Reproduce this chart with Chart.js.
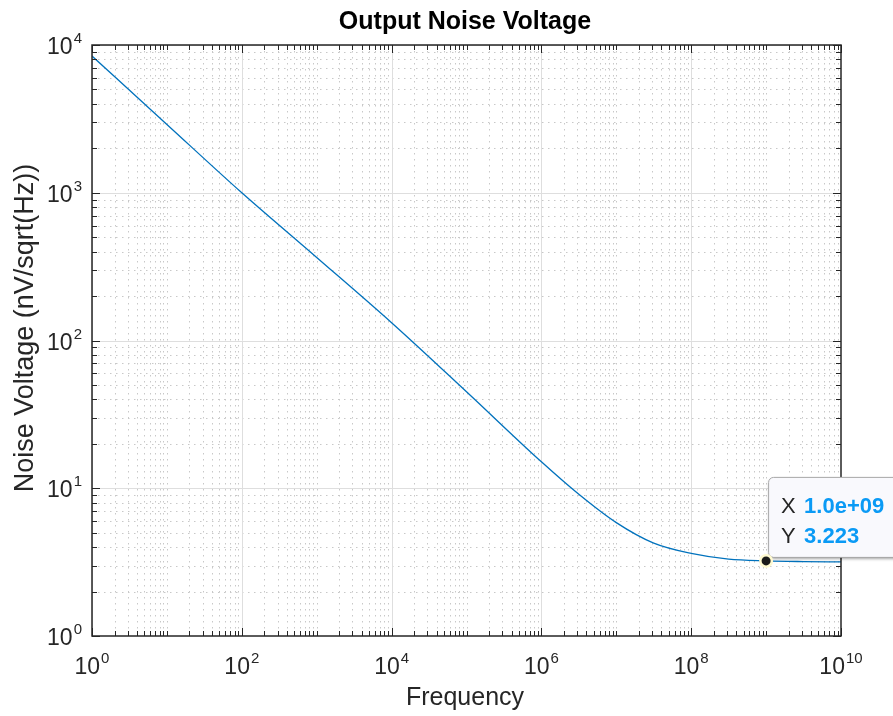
<!DOCTYPE html>
<html>
<head>
<meta charset="utf-8">
<script src="https://cdn.jsdelivr.net/npm/chart.js@4"></script>
<style>
  html, body { margin: 0; padding: 0; background: #ffffff; }
  #wrap { width: 893px; height: 716px; }
</style>
</head>
<body>
<div id="wrap"><canvas id="noiseChart" width="893" height="716"></canvas></div>
<script>
// data
const freqs = [1, 10, 100, 1e3, 1e4, 1e5, 1e6, 3.16e6, 1e7, 3.16e7, 1e8, 3.16e8, 1e9, 3.16e9, 1e10];
const noise = [8420, 2900, 1000, 365, 132, 45, 15.1, 9.1, 5.85, 4.25, 3.62, 3.31, 3.223, 3.19, 3.175];

const xDecades = [0, 1, 2, 3, 4, 5, 6, 7, 8, 9, 10];
const xLabelDecades = [0, 2, 4, 6, 8, 10];
const yDecades = [0, 1, 2, 3, 4];

const tipX = 1e9;
const tipY = 3.223;
const tipXText = "1.0e+09";
const tipYText = "3.223";

const titleText = "Output Noise Voltage";
const xTitle = "Frequency";
const yTitle = "Noise Voltage (nV/sqrt(Hz))";

const FONT = '"Liberation Sans", Arial, Helvetica, sans-serif';
const INK = "#262626";

// draws grid, frame, ticks, labels and the data tip
const matlabAxes = {
    id: "matlabAxes",

    beforeDatasetsDraw(chart) {
        const ctx = chart.ctx;
        const a = chart.chartArea;
        const xs = chart.scales.x, ys = chart.scales.y;

        ctx.save();
        ctx.beginPath();
        ctx.rect(a.left, a.top, a.right - a.left, a.bottom - a.top);
        ctx.clip();

        // minor dotted grid
        ctx.strokeStyle = "#c8c8c8";
        ctx.lineWidth = 1;
        ctx.setLineDash([1.5, 4.5]);
        xDecades.forEach(d => {
            for (let m = 1; m <= 9; m++) {
                if (m === 1 && d % 2 === 0) continue;
                const v = m * Math.pow(10, d);
                if (v > 1e10) continue;
                const px = Math.round(xs.getPixelForValue(v)) + 0.5;
                ctx.beginPath(); ctx.moveTo(px, a.top); ctx.lineTo(px, a.bottom); ctx.stroke();
            }
        });
        yDecades.forEach(d => {
            for (let m = 2; m <= 9; m++) {
                const v = m * Math.pow(10, d);
                if (v > 1e4) continue;
                const py = Math.round(ys.getPixelForValue(v)) + 0.5;
                ctx.beginPath(); ctx.moveTo(a.left, py); ctx.lineTo(a.right, py); ctx.stroke();
            }
        });

        // major solid grid
        ctx.setLineDash([]);
        ctx.strokeStyle = "#dedede";
        xLabelDecades.forEach(d => {
            const px = Math.round(xs.getPixelForValue(Math.pow(10, d))) + 0.5;
            ctx.beginPath(); ctx.moveTo(px, a.top); ctx.lineTo(px, a.bottom); ctx.stroke();
        });
        yDecades.forEach(d => {
            const py = Math.round(ys.getPixelForValue(Math.pow(10, d))) + 0.5;
            ctx.beginPath(); ctx.moveTo(a.left, py); ctx.lineTo(a.right, py); ctx.stroke();
        });
        ctx.restore();
    },

    afterDatasetsDraw(chart) {
        const ctx = chart.ctx;
        const a = chart.chartArea;
        const xs = chart.scales.x, ys = chart.scales.y;

        ctx.save();

        // ticks, inward on all four sides
        ctx.strokeStyle = INK;
        ctx.lineWidth = 1;
        xDecades.forEach(d => {
            for (let m = 1; m <= 9; m++) {
                const v = m * Math.pow(10, d);
                if (v > 1e10) continue;
                const major = (m === 1 && d % 2 === 0);
                const len = major ? 8 : 5;
                const px = Math.round(xs.getPixelForValue(v)) + 0.5;
                ctx.beginPath();
                ctx.moveTo(px, a.bottom); ctx.lineTo(px, a.bottom - len);
                ctx.moveTo(px, a.top); ctx.lineTo(px, a.top + len);
                ctx.stroke();
            }
        });
        yDecades.forEach(d => {
            for (let m = 1; m <= 9; m++) {
                const v = m * Math.pow(10, d);
                if (v > 1e4) continue;
                const len = m === 1 ? 8 : 5;
                const py = Math.round(ys.getPixelForValue(v)) + 0.5;
                ctx.beginPath();
                ctx.moveTo(a.left, py); ctx.lineTo(a.left + len, py);
                ctx.moveTo(a.right, py); ctx.lineTo(a.right - len, py);
                ctx.stroke();
            }
        });

        // frame
        ctx.lineWidth = 1.5;
        ctx.strokeRect(a.left, a.top, a.right - a.left, a.bottom - a.top);

        // tick labels 10^n
        ctx.fillStyle = INK;
        ctx.textBaseline = "alphabetic";
        const drawPow = (x, y, exp, align) => {
            ctx.font = "23px " + FONT;
            const wBase = ctx.measureText("10").width;
            ctx.font = "15px " + FONT;
            const wExp = ctx.measureText(String(exp)).width;
            const total = wBase + wExp + 1;
            let left = x;
            if (align === "center") left = x - total / 2;
            if (align === "right") left = x - total;
            ctx.textAlign = "left";
            ctx.font = "23px " + FONT;
            ctx.fillText("10", left, y);
            ctx.font = "15px " + FONT;
            ctx.fillText(String(exp), left + wBase + 1, y - 11);
        };
        xLabelDecades.forEach(d => {
            drawPow(xs.getPixelForValue(Math.pow(10, d)), a.bottom + 38, d, "center");
        });
        yDecades.forEach(d => {
            drawPow(a.left - 10, ys.getPixelForValue(Math.pow(10, d)) + 9, d, "right");
        });

        // title and axis titles
        ctx.textAlign = "center";
        ctx.textBaseline = "middle";
        ctx.font = "bold 25px " + FONT;
        ctx.fillStyle = "#000000";
        ctx.fillText(titleText, 465, 22);

        ctx.fillStyle = INK;
        ctx.font = "25px " + FONT;
        ctx.fillText(xTitle, 465, 698);

        ctx.save();
        ctx.translate(26, 328);
        ctx.rotate(-Math.PI / 2);
        ctx.font = "27px " + FONT;
        ctx.fillText(yTitle, 0, 0);
        ctx.restore();

        // data tip
        const px = xs.getPixelForValue(tipX);
        const py = ys.getPixelForValue(tipY);

        const bx = px + 2, by = py - 84, bw = 140, bh = 80;
        ctx.save();
        ctx.shadowColor = "rgba(0,0,0,0.35)";
        ctx.shadowOffsetX = 1;
        ctx.shadowOffsetY = 2;
        ctx.shadowBlur = 3;
        ctx.fillStyle = "#f9f9fd";
        ctx.beginPath();
        ctx.roundRect(bx, by, bw, bh, 5);
        ctx.fill();
        ctx.restore();
        ctx.strokeStyle = "#a8a8a8";
        ctx.lineWidth = 1;
        ctx.beginPath();
        ctx.roundRect(bx + 0.5, by + 0.5, bw, bh, 5);
        ctx.stroke();

        ctx.textAlign = "left";
        ctx.textBaseline = "alphabetic";
        ctx.font = "22px " + FONT;
        ctx.fillStyle = INK;
        ctx.fillText("X", bx + 13, by + 36);
        ctx.fillText("Y", bx + 13, by + 66);
        ctx.font = "bold 22px " + FONT;
        ctx.fillStyle = "#0a9af5";
        ctx.fillText(tipXText, bx + 36, by + 36);
        ctx.fillText(tipYText, bx + 36, by + 66);

        // marker
        ctx.fillStyle = "#fffad0";
        ctx.beginPath(); ctx.arc(px, py, 7, 0, Math.PI * 2); ctx.fill();
        ctx.fillStyle = "#1a1a1a";
        ctx.beginPath(); ctx.arc(px, py, 4.5, 0, Math.PI * 2); ctx.fill();

        ctx.restore();
    }
};

const ctx = document.getElementById("noiseChart").getContext("2d");

new Chart(ctx, {
    type: "line",
    data: {
        datasets: [{
            data: freqs.map((f, i) => ({ x: f, y: noise[i] })),
            borderColor: "#0072BD",
            borderWidth: 1.3,
            pointRadius: 0,
            fill: false,
            cubicInterpolationMode: "monotone"
        }]
    },
    options: {
        responsive: false,
        animation: false,
        events: [],
        layout: {
            padding: { left: 92, right: 52, top: 45, bottom: 80 }
        },
        plugins: {
            legend: { display: false },
            tooltip: { enabled: false },
            title: { display: false }
        },
        scales: {
            x: { type: "logarithmic", min: 1, max: 1e10, display: false },
            y: { type: "logarithmic", min: 1, max: 1e4, display: false }
        }
    },
    plugins: [matlabAxes]
});
</script>
</body>
</html>
